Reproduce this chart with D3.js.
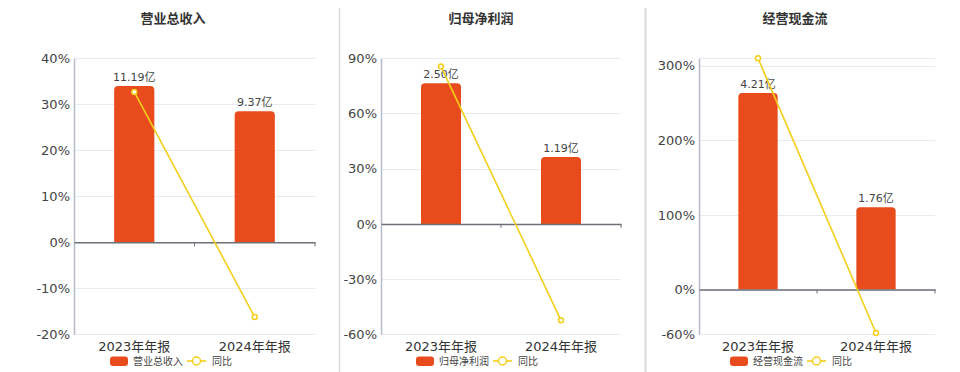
<!DOCTYPE html>
<html><head><meta charset="utf-8">
<script src="https://cdn.jsdelivr.net/npm/d3@7/dist/d3.min.js"></script>
<style>
html,body{margin:0;padding:0;background:#fff;}
svg{display:block;font-family:"DejaVu Sans","Noto Sans CJK SC",sans-serif;}
</style></head>
<body>
<svg id="c" width="960" height="372"></svg>
<script>
const categories = ["2023年年报", "2024年年报"];
const titles = ["营业总收入", "归母净利润", "经营现金流"];
const revenue = [11.19, 9.37];
const revenueYoY = [32.7, -16.26];
const profit = [2.50, 1.19];
const profitYoY = [85.5, -52.4];
const cash = [4.21, 1.76];
const cashYoY = [310, -58.2];
const revenueTicks = [-20, -10, 0, 10, 20, 30, 40];
const profitTicks = [-60, -30, 0, 30, 60, 90];
const cashTicks = [-60, 0, 100, 200, 300];
const yoyLabel = "同比";

const panels = [
  {title: titles[0], bars: revenue, yoy: revenueYoY, ticks: revenueTicks, dom: [-20, 40],
   x0: 74, x1: 315, titleX: 173, legX: 110},
  {title: titles[1], bars: profit, yoy: profitYoY, ticks: profitTicks, dom: [-60, 90],
   x0: 381, x1: 621, titleX: 481, legX: 416},
  {title: titles[2], bars: cash, yoy: cashYoY, ticks: cashTicks, dom: [-60, 310],
   x0: 699, x1: 935, titleX: 795, legX: 730}
];

const svg = d3.select("#c");
const plotTop = 58.3, plotBottom = 334.3;
const barColor = "#e84c1d", lineColor = "#f3cf1a";

// dividers
svg.append("line").attr("x1", 339.5).attr("x2", 339.5).attr("y1", 8).attr("y2", 372)
  .attr("stroke", "#d9d9d9").attr("stroke-width", 1.5);
svg.append("line").attr("x1", 645.5).attr("x2", 645.5).attr("y1", 8).attr("y2", 372)
  .attr("stroke", "#d9d9d9").attr("stroke-width", 2);

panels.forEach(p => {
  const g = svg.append("g");
  const y = d3.scaleLinear().domain(p.dom).range([plotBottom, plotTop]);
  const x = d3.scaleBand().domain(categories).range([p.x0, p.x1]);
  const bmax = d3.max(p.bars) / 0.85;
  const yb = d3.scaleLinear().domain([0, bmax]).range([y(0), plotTop]);

  g.append("text").attr("x", p.titleX).attr("y", 23).attr("text-anchor", "middle")
    .attr("font-size", 13).attr("font-weight", "bold").attr("fill", "#333")
    .attr("font-family", "'Noto Sans CJK SC',sans-serif").text(p.title);

  // grid
  const gridVals = p.ticks.concat([p.dom[1]]);
  g.selectAll(".grid").data(gridVals).enter().append("line")
    .attr("x1", p.x0).attr("x2", p.x1)
    .attr("y1", d => Math.round(y(d)) + 0.5).attr("y2", d => Math.round(y(d)) + 0.5)
    .attr("stroke", "#e6eaf3").attr("stroke-width", 1);

  // y axis
  const ya = g.append("g").attr("transform", `translate(${p.x0},0)`)
    .call(d3.axisLeft(y).tickValues(p.ticks).tickFormat(d => d + "%").tickSize(0).tickPadding(4));
  ya.select(".domain").attr("stroke", "#b8bcc6").attr("stroke-width", 1.5);
  ya.selectAll("text").attr("font-size", 13).attr("fill", "#444")
    .attr("font-family", "'DejaVu Sans',sans-serif");

  // bars with rounded tops
  const bw = x.bandwidth() / 3;
  const r = 4;
  g.selectAll(".bar").data(p.bars).enter().append("path")
    .attr("fill", barColor)
    .attr("d", (d, i) => {
      const cx = x(categories[i]) + x.bandwidth() / 2;
      const l = cx - bw / 2, rr = cx + bw / 2, t = yb(d), b = y(0);
      return `M${l},${b}L${l},${t + r}Q${l},${t} ${l + r},${t}L${rr - r},${t}Q${rr},${t} ${rr},${t + r}L${rr},${b}Z`;
    });

  // bar labels
  g.selectAll(".bl").data(p.bars).enter().append("text")
    .attr("x", (d, i) => x(categories[i]) + x.bandwidth() / 2)
    .attr("y", d => yb(d) - 5).attr("text-anchor", "middle")
    .attr("font-size", 11).attr("fill", "#444")
    .text(d => d.toFixed(2) + "亿");

  // zero line (x axis)
  const xa = g.append("g").attr("transform", `translate(0,${y(0)})`)
    .call(d3.axisBottom(x).tickSize(0).tickFormat(""));
  xa.select(".domain").attr("stroke", "#6e7079").attr("stroke-width", 1.5);
  [x.range()[0] + x.bandwidth(), p.x1].forEach(tx => {
    g.append("line").attr("x1", tx).attr("x2", tx).attr("y1", y(0)).attr("y2", y(0) + 4)
      .attr("stroke", "#6e7079").attr("stroke-width", 1);
  });

  // category labels
  g.selectAll(".cl").data(categories).enter().append("text")
    .attr("x", d => x(d) + x.bandwidth() / 2).attr("y", 350.5).attr("text-anchor", "middle")
    .attr("font-size", 13).attr("fill", "#333").text(d => d);

  // yoy line
  const line = d3.line().x((d, i) => x(categories[i]) + x.bandwidth() / 2).y(d => y(d));
  g.append("path").datum(p.yoy).attr("d", line).attr("fill", "none")
    .attr("stroke", lineColor).attr("stroke-width", 1.6);
  g.selectAll(".pt").data(p.yoy).enter().append("circle")
    .attr("cx", (d, i) => x(categories[i]) + x.bandwidth() / 2).attr("cy", d => y(d))
    .attr("r", 2.5).attr("fill", "#fff").attr("stroke", lineColor).attr("stroke-width", 1.5);

  // legend
  const lg = g.append("g").attr("transform", `translate(${p.legX},361)`);
  lg.append("rect").attr("x", 0).attr("y", -4.5).attr("width", 18).attr("height", 9.5).attr("rx", 3)
    .attr("fill", barColor);
  const t1 = lg.append("text").attr("x", 23).attr("y", 4).attr("font-size", 10).attr("fill", "#444")
    .attr("font-family", "'Noto Sans CJK SC',sans-serif").text(p.title);
  const w = t1.node().getComputedTextLength();
  const sx = 23 + w + 4;
  lg.append("line").attr("x1", sx).attr("x2", sx + 19).attr("y1", 0).attr("y2", 0)
    .attr("stroke", lineColor).attr("stroke-width", 1.6);
  lg.append("circle").attr("cx", sx + 9.5).attr("cy", 0).attr("r", 4).attr("fill", "#fff")
    .attr("stroke", lineColor).attr("stroke-width", 1.5);
  lg.append("text").attr("x", sx + 25).attr("y", 4).attr("font-size", 10).attr("fill", "#444")
    .attr("font-family", "'Noto Sans CJK SC',sans-serif").text(yoyLabel);
});
</script>
</body></html>
